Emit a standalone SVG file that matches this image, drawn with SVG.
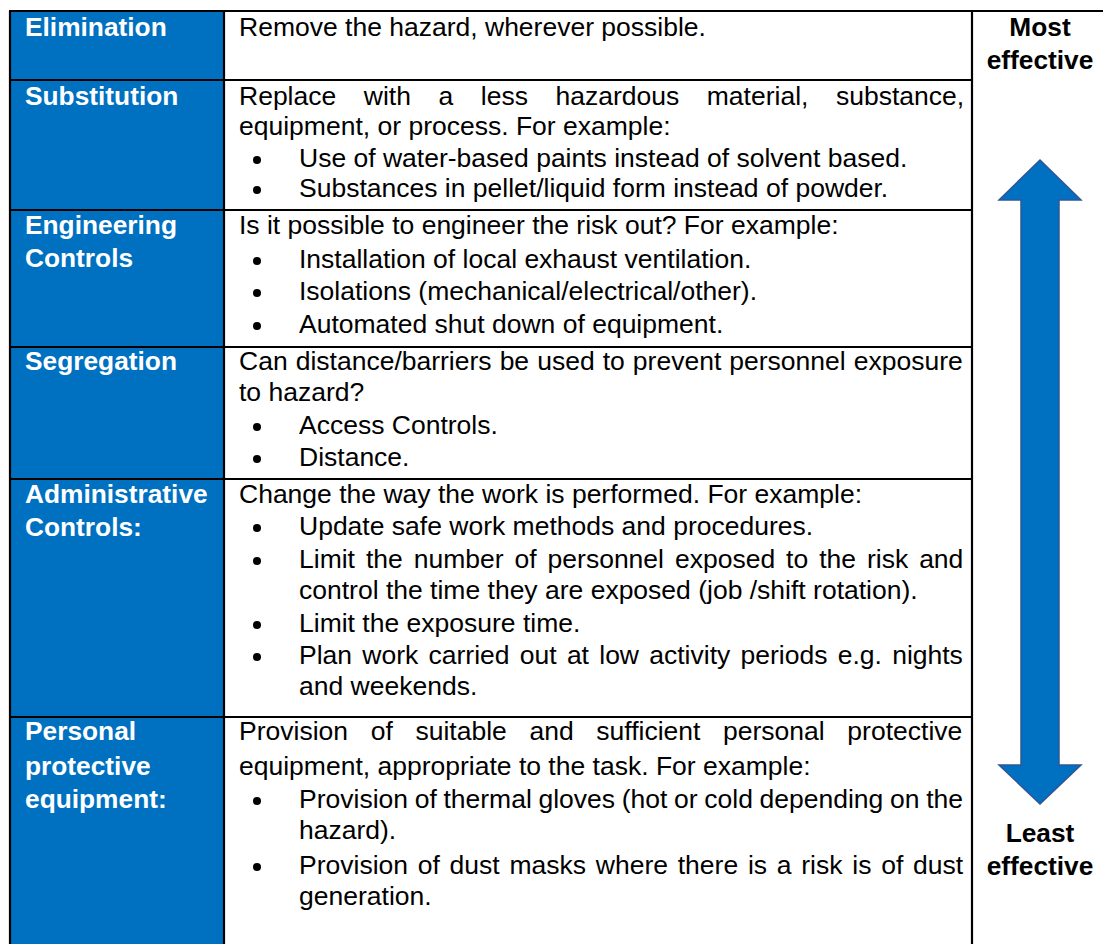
<svg xmlns="http://www.w3.org/2000/svg" width="1103" height="944" viewBox="0 0 1103 944">
<style>
.lab{font-family:"Liberation Sans",Arial,sans-serif;font-size:26.3px;font-weight:bold;fill:#ffffff}
.txt{font-family:"Liberation Sans",Arial,sans-serif;font-size:26.5px;fill:#000000}
.side{font-family:"Liberation Sans",Arial,sans-serif;font-size:26.3px;font-weight:bold;fill:#000000;text-anchor:middle}
.grid{stroke:#000000;stroke-width:2.2;fill:none}
.bul{fill:#000000}
</style>
<rect x="0" y="0" width="1103" height="944" fill="#ffffff"/>
<rect x="10" y="11" width="214" height="933" fill="#0070C0"/>
<g id="grid" class="grid">
<line x1="9" y1="11" x2="1103" y2="11"/>
<line x1="10" y1="11" x2="10" y2="944"/>
<line x1="224" y1="11" x2="224" y2="944"/>
<line x1="972" y1="11" x2="972" y2="944"/>
<line x1="10" y1="80" x2="972" y2="80"/>
<line x1="10" y1="210" x2="972" y2="210"/>
<line x1="10" y1="347" x2="972" y2="347"/>
<line x1="10" y1="479" x2="972" y2="479"/>
<line x1="10" y1="717" x2="972" y2="717"/>
</g>
<g id="row-elimination">
<text class="lab" x="25" y="36">Elimination</text>
<text class="txt" x="239" y="36">Remove the hazard, wherever possible.</text>
</g>
<g id="row-substitution">
<text class="lab" x="25" y="105">Substitution</text>
<text class="txt" x="239" y="105" word-spacing="20.2">Replace with a less hazardous material, substance,</text>
<text class="txt" x="239" y="135">equipment, or process. For example:</text>
<circle class="bul" cx="257" cy="160" r="4"/>
<text class="txt" x="299" y="167">Use of water-based paints instead of solvent based.</text>
<circle class="bul" cx="257" cy="190" r="4"/>
<text class="txt" x="299" y="197">Substances in pellet/liquid form instead of powder.</text>
</g>
<g id="row-engineering">
<text class="lab" x="25" y="234">Engineering</text>
<text class="lab" x="25" y="267">Controls</text>
<text class="txt" x="239" y="234">Is it possible to engineer the risk out? For example:</text>
<circle class="bul" cx="257" cy="261" r="4"/>
<text class="txt" x="299" y="268">Installation of local exhaust ventilation.</text>
<circle class="bul" cx="257" cy="293" r="4"/>
<text class="txt" x="299" y="300">Isolations (mechanical/electrical/other).</text>
<circle class="bul" cx="257" cy="326" r="4"/>
<text class="txt" x="299" y="333">Automated shut down of equipment.</text>
</g>
<g id="row-segregation">
<text class="lab" x="25" y="370">Segregation</text>
<text class="txt" x="239" y="370" word-spacing="0.7">Can distance/barriers be used to prevent personnel exposure</text>
<text class="txt" x="239" y="401">to hazard?</text>
<circle class="bul" cx="257" cy="427" r="4"/>
<text class="txt" x="299" y="434">Access Controls.</text>
<circle class="bul" cx="257" cy="459" r="4"/>
<text class="txt" x="299" y="466">Distance.</text>
</g>
<g id="row-administrative">
<text class="lab" x="25" y="503">Administrative</text>
<text class="lab" x="25" y="536">Controls:</text>
<text class="txt" x="239" y="503">Change the way the work is performed. For example:</text>
<circle class="bul" cx="257" cy="528" r="4"/>
<text class="txt" x="299" y="535">Update safe work methods and procedures.</text>
<circle class="bul" cx="257" cy="561" r="4"/>
<text class="txt" x="299" y="568" word-spacing="3.6">Limit the number of personnel exposed to the risk and</text>
<text class="txt" x="299" y="599">control the time they are exposed (job /shift rotation).</text>
<circle class="bul" cx="257" cy="625" r="4"/>
<text class="txt" x="299" y="632">Limit the exposure time.</text>
<circle class="bul" cx="257" cy="657" r="4"/>
<text class="txt" x="299" y="664" word-spacing="2.9">Plan work carried out at low activity periods e.g. nights</text>
<text class="txt" x="299" y="695">and weekends.</text>
</g>
<g id="row-ppe">
<text class="lab" x="25" y="740">Personal</text>
<text class="lab" x="25" y="775">protective</text>
<text class="lab" x="25" y="808">equipment:</text>
<text class="txt" x="239" y="740" word-spacing="15.3">Provision of suitable and sufficient personal protective</text>
<text class="txt" x="239" y="775">equipment, appropriate to the task. For example:</text>
<circle class="bul" cx="257" cy="801" r="4"/>
<text class="txt" x="299" y="808" word-spacing="-0.7">Provision of thermal gloves (hot or cold depending on the</text>
<text class="txt" x="299" y="839">hazard).</text>
<circle class="bul" cx="257" cy="867" r="4"/>
<text class="txt" x="299" y="874" word-spacing="2.4">Provision of dust masks where there is a risk is of dust</text>
<text class="txt" x="299" y="905">generation.</text>
</g>
<g id="label-most">
<text class="side" x="1040" y="36">Most</text>
<text class="side" x="1040" y="69">effective</text>
</g>
<g id="label-least">
<text class="side" x="1040" y="842">Least</text>
<text class="side" x="1040" y="875">effective</text>
</g>
<g id="connectors">
<path d="M1040,160 L1081,200 L1059,200 L1059,765 L1081,765 L1040,804 L999,765 L1021,765 L1021,200 L999,200 Z" fill="#0070C0" stroke="#2F5597" stroke-width="1.5" stroke-linejoin="miter"/>
</g>
</svg>
